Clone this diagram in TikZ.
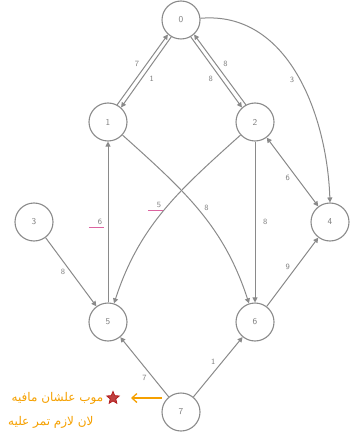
\documentclass[tikz,border=0pt]{standalone}
\usepackage{fontspec}
\usepackage{xcolor}
\usepackage{tikz}
\usetikzlibrary{calc,positioning,arrows.meta,shapes.geometric}
\TeXXeTstate=1
\newfontfamily\arabicfont[Script=Arabic]{DejaVu Sans}
\definecolor{edgegray}{HTML}{8A8A8A}
\definecolor{notepink}{HTML}{DC64A0}
\definecolor{noteorange}{HTML}{F5A000}
\definecolor{notered}{HTML}{B41E1E}

\begin{document}
\begin{tikzpicture}[x=1pt, y=1pt,
  every node/.style={font=\small\sffamily},
  vertex/.style={circle, draw=edgegray, line width=1.1pt, minimum size=38pt, inner sep=0pt, text=gray},
  edge/.style={draw=edgegray, line width=1pt, -{Triangle[length=5pt,width=5pt]}},
  wlabel/.style={font=\footnotesize\sffamily, text=gray, inner sep=1.5pt},
  pinkmark/.style={draw=notepink, line width=1.2pt},
  note/.style={text=noteorange, font=\large\arabicfont, inner sep=0pt}]
  \useasboundingbox (0,0) rectangle (349,-446);

  % Vertices
  \node[vertex] (n0) at (181,-20) {0};
  \node[vertex] (n1) at (108,-122) {1};
  \node[vertex] (n2) at (255,-122) {2};
  \node[vertex] (n3) at (34,-222) {3};
  \node[vertex] (n4) at (330,-222) {4};
  \node[vertex] (n5) at (108,-322) {5};
  \node[vertex] (n6) at (255,-322) {6};
  \node[vertex] (n7) at (181,-412) {7};

  % Pairs between 0 and 1, 0 and 2
  \draw[edge] (n1.62) -- (n0.228) node[wlabel, midway, above left=2pt] {7};
  \draw[edge] (n0.240) -- (n1.48) node[wlabel, midway, below right=2pt] {1};
  \draw[edge] (n0.300) -- (n2.132) node[wlabel, midway, below left=2pt] {8};
  \draw[edge] (n2.118) -- (n0.312) node[wlabel, midway, above right=2pt] {8};

  % Other edges
  \draw[edge] (n0.5) to[out=5, in=92] node[wlabel, pos=0.5, below left=1pt] {3} (n4.north);
  \draw[edge, {Triangle[length=5pt,width=5pt]}-{Triangle[length=5pt,width=5pt]}] (n2) -- (n4) node[wlabel, midway, below left=1pt] {6};
  \draw[edge] (n2) -- (n6) node[wlabel, midway, right=6pt] {8};
  \draw[edge] (n2) to[out=222, in=72] node[wlabel, pos=0.5, above left=1pt] (w25) {5} (n5);
  \draw[edge] (n1) to[out=-42, in=108] node[wlabel, pos=0.52, above right=1pt] {8} (n6);
  \draw[edge] (n5) -- (n1) node[wlabel, midway, left=4pt] (w51) {6};
  \draw[edge] (n3) -- (n5) node[wlabel, midway, left=4pt] {8};
  \draw[edge] (n6) -- (n4) node[wlabel, midway, above left=1pt] {9};
  \draw[edge] (n7) -- (n5) node[wlabel, pos=0.4, below left=1pt] {7};
  \draw[edge] (n7) -- (n6) node[wlabel, midway, above left=1pt] {1};

  % Pink marks under the weights
  \draw[pinkmark] ([xshift=-7pt, yshift=-1pt]w51.south west) -- ([yshift=-1pt]w51.south east);
  \draw[pinkmark] ([xshift=-7pt, yshift=-1pt]w25.south west) -- ([yshift=-1pt]w25.south east);

  % Handwritten note
  \coordinate (tip) at (131,-398);
  \coordinate (tail) at (162,-398);
  \draw[noteorange, line width=1.3pt, -{Straight Barb[length=5pt,width=9pt]}] (tail) -- (tip);
  \node[star, star points=5, star point ratio=2.2, minimum size=13pt, inner sep=0pt, draw=notered, fill=notered!85, line width=0.8pt] (mark) at (113,-398) {};
  \node[note, left=5pt of mark] (line1) {\beginR موب علشان مافيه\endR};
  \node[note, anchor=west] (line2) at (8,-422) {\beginR لان لازم تمر عليه\endR};
\end{tikzpicture}
\end{document}
